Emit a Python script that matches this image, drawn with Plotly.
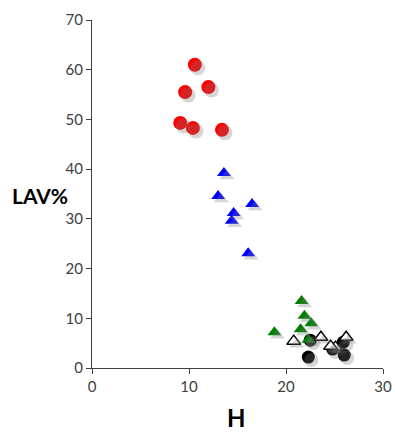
import plotly.graph_objects as go

# Data
red_h = [10.6, 9.6, 12.0, 9.1, 10.4, 13.4]
red_lav = [61.0, 55.5, 56.5, 49.3, 48.3, 47.9]

blue_h = [13.6, 13.0, 16.5, 14.6, 14.4, 16.1]
blue_lav = [39.2, 34.6, 33.0, 31.2, 29.6, 23.1]

green_h = [21.6, 21.9, 22.6, 21.5, 18.8, 22.3]
green_lav = [13.5, 10.5, 9.0, 7.8, 7.2, 5.7]

white_h = [20.8, 23.6, 25.1, 26.2, 24.6]
white_lav = [5.4, 6.2, 4.2, 6.2, 4.4]

black_h = [22.3, 24.8, 26.0, 25.9, 22.5]
black_lav = [2.2, 3.8, 2.6, 5.2, 5.6]

x_ticks = [0, 10, 20, 30]
y_ticks = [0, 10, 20, 30, 40, 50, 60, 70]

X_RANGE = [0, 30]
Y_RANGE = [0, 70]

W, H = 395, 432
L, R, T, B = 92, 12, 20, 64
pw = W - L - R
ph = H - T - B
sh = 3.0  # shadow offset in px
dx = sh * (X_RANGE[1] - X_RANGE[0]) / pw
dy = sh * (Y_RANGE[1] - Y_RANGE[0]) / ph

series = [
    (black_h, black_lav, "circle", 13, "black", "black", 0),
    (white_h, white_lav, "triangle-up", 12, "white", "black", 1.5),
    (green_h, green_lav, "triangle-up", 12, "#008000", "#008000", 0),
    (blue_h, blue_lav, "triangle-up", 12, "#0000FF", "#0000FF", 0),
    (red_h, red_lav, "circle", 14, "#FF0000", "#FF0000", 0),
]

fig = go.Figure()
# shadows
for xs, ys, sym, size, fill, line, lw in series:
    fig.add_trace(go.Scatter(
        x=xs, y=ys, mode="markers", xaxis="x2", yaxis="y2",
        marker=dict(symbol=sym, size=size + 1, color="rgba(120,120,120,0.3)",
                    line=dict(width=0)),
        hoverinfo="skip", showlegend=False))
for xs, ys, sym, size, fill, line, lw in series:
    fig.add_trace(go.Scatter(
        x=xs, y=ys, mode="markers",
        marker=dict(symbol=sym, size=size, color=fill,
                    line=dict(width=lw, color=line)),
        showlegend=False))

tickfont = dict(family="Lato, 'DejaVu Sans', sans-serif", size=15, color="#404040")
fig.update_layout(
    width=W, height=H,
    margin=dict(l=L, r=R, t=T, b=B),
    paper_bgcolor="white", plot_bgcolor="rgba(0,0,0,0)",
    xaxis=dict(range=X_RANGE, tickvals=x_ticks, showgrid=False, zeroline=False,
               showline=True, linecolor="#404040", linewidth=1,
               ticks="outside", ticklen=5, tickcolor="#404040",
               tickfont=tickfont, automargin=False),
    yaxis=dict(range=Y_RANGE, tickvals=y_ticks, showgrid=False, zeroline=False,
               showline=True, linecolor="#404040", linewidth=1,
               ticks="outside", ticklen=5, tickcolor="#404040",
               tickfont=tickfont, automargin=False),
    xaxis2=dict(range=[X_RANGE[0] - dx, X_RANGE[1] - dx], overlaying="x",
                visible=False, automargin=False),
    yaxis2=dict(range=[Y_RANGE[0] + dy, Y_RANGE[1] + dy], overlaying="y",
                visible=False, automargin=False),
    annotations=[
        dict(text="<b>LAV%</b>", xref="paper", yref="paper",
             x=-0.179, y=0.497, xanchor="center", yanchor="middle",
             showarrow=False,
             font=dict(family="Lato, 'DejaVu Sans', sans-serif", size=21, color="black")),
        dict(text="<b>H</b>", xref="paper", yref="paper",
             x=0.498, y=-0.143, xanchor="center", yanchor="middle",
             showarrow=False,
             font=dict(family="Lato, 'DejaVu Sans', sans-serif", size=24, color="black")),
    ],
)

fig.write_html(
    "out.html",
    config={"displayModeBar": False},
    post_script="document.body.style.margin='0';document.body.style.overflow='hidden';",
)
